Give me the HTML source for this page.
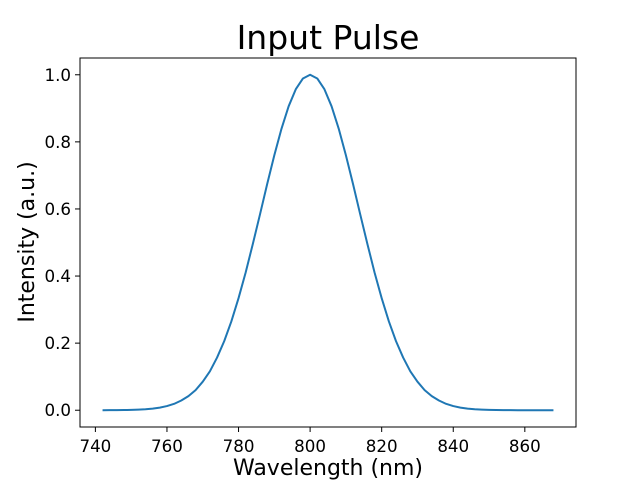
<!DOCTYPE html>
<html><head><meta charset="utf-8"><style>
html,body{margin:0;padding:0;background:#fff}
svg text{font-family:"DejaVu Sans","Liberation Sans",sans-serif;fill:#000}
</style></head><body>
<svg width="640" height="480" xmlns="http://www.w3.org/2000/svg">
<text x="328" y="49" font-size="33" text-anchor="middle">Input Pulse</text>
<g id="xt"></g>
<g id="yt"></g>
<polyline id="line" fill="none" stroke="#1f77b4" stroke-width="2" stroke-linejoin="round"/>
<rect x="80" y="58" width="496" height="369" fill="none" stroke="#000" stroke-width="1"/>
<text x="328" y="475" font-size="22" text-anchor="middle">Wavelength (nm)</text>
<text transform="translate(34,242) rotate(-90)" font-size="22" text-anchor="middle">Intensity (a.u.)</text>
</svg>
<script>
const wavelengths=[742,744,746,748,750,752,754,756,758,760,762,764,766,768,770,772,774,776,778,780,782,784,786,788,790,792,794,796,798,800,802,804,806,808,810,812,814,816,818,820,822,824,826,828,830,832,834,836,838,840,842,844,846,848,850,852,854,856,858,860,862,864,866,868];
const intensity=[0.0001,0.0002,0.0003,0.0006,0.0010,0.0018,0.0030,0.0049,0.0078,0.0124,0.019,0.029,0.042,0.060,0.085,0.116,0.157,0.206,0.265,0.334,0.411,0.496,0.584,0.674,0.760,0.839,0.906,0.957,0.989,1.0,0.989,0.957,0.906,0.839,0.760,0.674,0.584,0.496,0.411,0.334,0.265,0.206,0.157,0.116,0.085,0.060,0.042,0.029,0.019,0.0124,0.0078,0.0049,0.0030,0.0018,0.0010,0.0006,0.0003,0.0002,0.0001,0,0,0,0,0];
const xTicks=[740,760,780,800,820,840,860];
const yTicks=[0.0,0.2,0.4,0.6,0.8,1.0];
const X0=80,X1=576,Y0=427,Y1=58,xmin=735.7,xmax=874.3,ymin=-0.05,ymax=1.05;
const sx=v=>X0+(v-xmin)/(xmax-xmin)*(X1-X0);
const sy=v=>Y0-(v-ymin)/(ymax-ymin)*(Y0-Y1);
const NS="http://www.w3.org/2000/svg";
document.getElementById('line').setAttribute('points',wavelengths.map((w,i)=>sx(w).toFixed(2)+','+sy(intensity[i]).toFixed(2)).join(' '));
const xg=document.getElementById('xt'),yg=document.getElementById('yt');
xTicks.forEach(t=>{
 const l=document.createElementNS(NS,'line');
 
 
 l.setAttribute('x1',sx(t));l.setAttribute('x2',sx(t));l.setAttribute('y1',Y0);l.setAttribute('y2',Y0+5);l.setAttribute('stroke','#000');l.setAttribute('stroke-width','1');
 xg.appendChild(l);
 const tx=document.createElementNS(NS,'text');
 
 
 tx.setAttribute('x',sx(t));tx.setAttribute('y',Y0+25);tx.setAttribute('font-size','16.7');tx.setAttribute('text-anchor','middle');
 tx.textContent=t;xg.appendChild(tx);
});
yTicks.forEach(t=>{
 const l=document.createElementNS(NS,'line');
 
 
 l.setAttribute('x1',X0-5);l.setAttribute('x2',X0);l.setAttribute('y1',sy(t));l.setAttribute('y2',sy(t));l.setAttribute('stroke','#000');l.setAttribute('stroke-width','1');
 yg.appendChild(l);
 const tx=document.createElementNS(NS,'text');
 
 
 tx.setAttribute('x',X0-9);tx.setAttribute('y',sy(t)+6);tx.setAttribute('font-size','16.7');tx.setAttribute('text-anchor','end');
 tx.textContent=t.toFixed(1);yg.appendChild(tx);
});
</script>
</body></html>
